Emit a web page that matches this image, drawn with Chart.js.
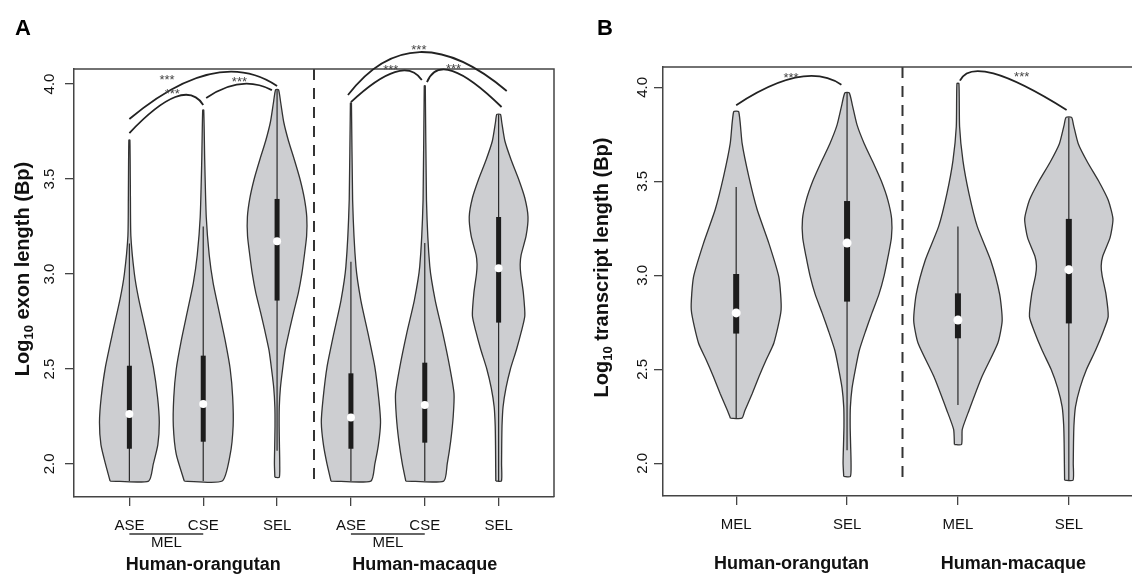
<!DOCTYPE html>
<html>
<head>
<meta charset="utf-8">
<script src="https://cdn.jsdelivr.net/npm/chart.js@4/dist/chart.umd.min.js"></script>
<style>
  body { margin: 0; width: 1132px; height: 576px; overflow: hidden; background: #fff; }
  .panel { position: absolute; top: 0; }
</style>
</head>
<body>
<div class="panel" style="left:0"><canvas id="chartA" width="580" height="576"></canvas></div>
<div class="panel" style="left:580px"><canvas id="chartB" width="570" height="576"></canvas></div>
<script>
const FONT = '"Liberation Sans", Arial, Helvetica, sans-serif';
Chart.defaults.font.family = FONT;

// axis ticks
const yTicks = [2.0, 2.5, 3.0, 3.5, 4.0];

// panel A: exon length
const catsA = ['ASE', 'CSE', 'SEL', 'ASE', 'CSE', 'SEL'];
const groupsA = ['Human-orangutan', 'Human-macaque'];

// panel B: transcript length
const catsB = ['MEL', 'SEL', 'MEL', 'SEL'];
const groupsB = ['Human-orangutan', 'Human-macaque'];

// violin outlines: log10 length levels and density half widths
const aseOrLevels = [1.91, 2.0, 2.1, 2.22, 2.35, 2.51, 2.7, 2.87, 3.0, 3.2, 3.4, 3.705];
const aseOrWidths = [0.261, 0.324, 0.385, 0.405, 0.382, 0.325, 0.222, 0.125, 0.068, 0.020, 0.014, 0.007];
const cseOrLevels = [1.91, 2.05, 2.2, 2.35, 2.5, 2.65, 2.8, 2.95, 3.1, 3.3, 3.6, 3.863];
const cseOrWidths = [0.257, 0.365, 0.405, 0.399, 0.365, 0.297, 0.216, 0.135, 0.081, 0.041, 0.020, 0.007];
const aseMaLevels = [1.91, 2.0, 2.1, 2.22, 2.34, 2.51, 2.69, 2.86, 3.04, 3.39, 3.9];
const aseMaWidths = [0.270, 0.324, 0.372, 0.401, 0.378, 0.324, 0.230, 0.135, 0.068, 0.023, 0.007];
const cseMaLevels = [1.91, 2.0, 2.12, 2.25, 2.37, 2.51, 2.69, 2.86, 3.04, 3.39, 3.99];
const cseMaWidths = [0.257, 0.304, 0.351, 0.385, 0.396, 0.338, 0.243, 0.142, 0.068, 0.023, 0.007];
const selOrLevels = [1.93, 2.0, 2.1, 2.2, 2.3, 2.4, 2.5, 2.6, 2.7, 2.8, 2.9, 3.0, 3.1, 3.2, 3.3, 3.4, 3.5, 3.6, 3.7, 3.8, 3.9, 3.97];
const selOrWidths = [0.03, 0.036, 0.032, 0.028, 0.03, 0.045, 0.075, 0.11, 0.165, 0.225, 0.288, 0.335, 0.37, 0.40, 0.402, 0.368, 0.31, 0.235, 0.155, 0.09, 0.05, 0.02];
const selMaLevels = [1.91, 2.0, 2.1, 2.2, 2.3, 2.4, 2.5, 2.6, 2.7, 2.78, 2.9, 3.0, 3.05, 3.1, 3.2, 3.3, 3.4, 3.5, 3.6, 3.7, 3.8, 3.84];
const selMaWidths = [0.038, 0.04, 0.042, 0.046, 0.06, 0.10, 0.16, 0.24, 0.31, 0.355, 0.335, 0.30, 0.292, 0.305, 0.372, 0.398, 0.355, 0.27, 0.17, 0.085, 0.042, 0.025];
const melOrLevels = [2.24, 2.28, 2.37, 2.46, 2.55, 2.64, 2.815, 2.99, 3.17, 3.35, 3.525, 3.70, 3.87];
const melOrWidths = [0.052, 0.078, 0.144, 0.205, 0.27, 0.340, 0.405, 0.385, 0.295, 0.189, 0.114, 0.054, 0.023];
const melMaLevels = [2.10, 2.18, 2.28, 2.46, 2.64, 2.76, 2.90, 3.08, 3.26, 3.436, 3.61, 3.79, 4.02];
const melMaWidths = [0.032, 0.039, 0.099, 0.216, 0.360, 0.399, 0.376, 0.295, 0.174, 0.099, 0.045, 0.015, 0.009];

// box stats: [whisker low, q1, median, q3, whisker high]
const aseOrStats = [1.91, 2.08, 2.263, 2.517, 3.16];
const cseOrStats = [1.91, 2.117, 2.316, 2.57, 3.25];
const selOrStats = [2.07, 2.86, 3.172, 3.395, 3.97];
const aseMaStats = [1.91, 2.08, 2.244, 2.477, 3.065];
const cseMaStats = [1.91, 2.112, 2.31, 2.533, 3.163];
const selMaStats = [1.91, 2.744, 3.03, 3.30, 3.84];
const melOrStats = [2.24, 2.69, 2.80, 3.007, 3.47];
const melMaStats = [2.31, 2.665, 2.762, 2.904, 3.26];

// significance brackets: [x from, y from, x ctrl, y ctrl, x to, y to] and '***' spots
const arcsA = [
  [1.0, 3.742, 1.743, 4.047, 2.0, 3.89],
  [2.04, 3.926, 2.51, 4.053, 2.93, 3.968],
  [1.0, 3.816, 2.19, 4.203, 3.0, 3.99],
  [4.0, 3.905, 4.71, 4.163, 4.96, 4.021],
  [5.03, 4.01, 5.22, 4.192, 6.04, 3.879],
  [3.96, 3.942, 4.83, 4.384, 6.11, 3.963]
];
const starsA = [[1.58, 3.963], [2.49, 4.026], [1.51, 4.037], [4.54, 4.089], [5.39, 4.095], [4.92, 4.195]];
const arcsB = [
  [1.0, 3.905, 1.619, 4.146, 1.949, 4.014],
  [3.018, 4.035, 3.14, 4.19, 3.98, 3.879]
];
const starsB = [[1.495, 4.065], [3.575, 4.07]];

function outline(pos, lv, wd) {
  const pts = [];
  for (let i = 0; i < lv.length; i++) pts.push({x: pos - wd[i], y: lv[i]});
  for (let i = lv.length - 1; i >= 0; i--) pts.push({x: pos + wd[i], y: lv[i]});
  pts.push(pts[0]);
  return pts;
}

function buildSets(shapes, stats, boxW, dotR, divider, yTop, yBot) {
  const sets = [];
  shapes.forEach(function (s, i) {
    const pos = i + 1;
    const st = stats[i];
    sets.push({data: outline(pos, s[0], s[1]), showLine: true, fill: 'shape',
      backgroundColor: '#cdced1', borderColor: '#333', borderWidth: 1.3,
      pointRadius: 0, tension: 0.2, order: 4});
    sets.push({data: [{x: pos, y: st[0]}, {x: pos, y: st[4]}], showLine: true,
      borderColor: '#2a2a2a', borderWidth: 1.2, pointRadius: 0, order: 3});
    sets.push({data: [{x: pos, y: st[1]}, {x: pos, y: st[3]}], showLine: true,
      borderColor: '#1c1c1c', borderWidth: boxW, borderCapStyle: 'butt', pointRadius: 0, order: 2});
    sets.push({data: [{x: pos, y: st[2]}], pointRadius: dotR, backgroundColor: '#fff',
      borderColor: '#fff', borderWidth: 0, order: 1});
  });
  sets.push({data: [{x: divider, y: yTop}, {x: divider, y: yBot}], showLine: true,
    borderColor: '#333', borderWidth: 2, borderDash: [11, 8], pointRadius: 0, order: 5});
  return sets;
}

function decor(cfg) {
  return {
    id: 'decor',
    afterDraw(chart) {
      const ctx = chart.ctx, a = chart.chartArea, x = chart.scales.x, y = chart.scales.y;
      ctx.save();
      ctx.strokeStyle = '#444';
      ctx.lineWidth = 1.5;
      ctx.beginPath();
      ctx.moveTo(a.left, a.top);
      ctx.lineTo(a.right, a.top);
      ctx.lineTo(a.right, a.bottom);
      ctx.stroke();

      ctx.strokeStyle = '#222';
      ctx.lineWidth = 1.8;
      cfg.arcs.forEach(function (c) {
        ctx.beginPath();
        ctx.moveTo(x.getPixelForValue(c[0]), y.getPixelForValue(c[1]));
        ctx.quadraticCurveTo(x.getPixelForValue(c[2]), y.getPixelForValue(c[3]),
          x.getPixelForValue(c[4]), y.getPixelForValue(c[5]));
        ctx.stroke();
      });
      ctx.fillStyle = '#444';
      ctx.font = '13px ' + FONT;
      ctx.textAlign = 'center';
      ctx.textBaseline = 'middle';
      cfg.stars.forEach(function (s) {
        ctx.fillText('***', x.getPixelForValue(s[0]), y.getPixelForValue(s[1]) + 3);
      });

      // MEL bracket under ASE/CSE
      ctx.fillStyle = '#111';
      ctx.font = '15px ' + FONT;
      (cfg.under || []).forEach(function (u) {
        const x0 = x.getPixelForValue(u[0]), x1 = x.getPixelForValue(u[1]);
        ctx.strokeStyle = '#333';
        ctx.lineWidth = 1.5;
        ctx.beginPath();
        ctx.moveTo(x0, a.bottom + 37);
        ctx.lineTo(x1, a.bottom + 37);
        ctx.stroke();
        ctx.fillText('MEL', (x0 + x1) / 2, a.bottom + 46);
      });

      ctx.font = 'bold 18px ' + FONT;
      cfg.groups.forEach(function (g, i) {
        ctx.fillText(g, x.getPixelForValue(cfg.groupPos[i]), a.bottom + 68);
      });

      // y title with subscript
      const big = 'bold 20px ' + FONT, small = 'bold 13px ' + FONT;
      ctx.font = big;
      const w1 = ctx.measureText('Log').width;
      const w3 = ctx.measureText(cfg.title).width;
      ctx.font = small;
      const w2 = ctx.measureText('10').width;
      ctx.translate(cfg.titleX, (a.top + a.bottom) / 2 - 14);
      ctx.rotate(-Math.PI / 2);
      ctx.textAlign = 'left';
      let px = -(w1 + w2 + w3) / 2;
      ctx.font = big;
      ctx.fillText('Log', px, 0);
      px += w1;
      ctx.font = small;
      ctx.fillText('10', px, 6);
      px += w2;
      ctx.font = big;
      ctx.fillText(cfg.title, px, 0);
      ctx.restore();

      ctx.save();
      ctx.fillStyle = '#000';
      ctx.font = 'bold 22px ' + FONT;
      ctx.textAlign = 'center';
      ctx.textBaseline = 'middle';
      ctx.fillText(cfg.letter, cfg.letterX, 29);
      ctx.restore();
    }
  };
}

function makeChart(id, o) {
  return new Chart(document.getElementById(id), {
    type: 'scatter',
    data: {datasets: o.sets},
    options: {
      responsive: false,
      animation: false,
      events: [],
      layout: {padding: {left: 0, top: o.top, right: o.right, bottom: 0}},
      plugins: {legend: {display: false}, tooltip: {enabled: false}},
      scales: {
        x: {
          type: 'linear', min: o.xMin, max: o.xMax,
          afterFit: function (s) { s.height = o.xH; },
          afterBuildTicks: function (s) { s.ticks = o.cats.map(function (c, i) { return {value: i + 1}; }); },
          ticks: {callback: function (v, i) { return o.cats[i]; }, autoSkip: false, maxRotation: 0,
            font: {size: 15}, color: '#111', padding: 11},
          grid: {drawOnChartArea: false, drawTicks: true, tickLength: 9, color: '#444', lineWidth: 1.3},
          border: {display: true, color: '#444', width: 1.5}
        },
        y: {
          type: 'linear', min: o.yMin, max: o.yMax,
          afterFit: function (s) { s.width = o.yW; },
          afterBuildTicks: function (s) { s.ticks = yTicks.map(function (v) { return {value: v}; }); },
          ticks: {callback: function (v) { return v.toFixed(1); }, minRotation: 90, maxRotation: 90,
            crossAlign: 'center', font: {size: 15}, color: '#111', padding: o.yPad},
          grid: {drawOnChartArea: false, drawTicks: true, tickLength: 9, color: '#444', lineWidth: 1.3},
          border: {display: true, color: '#444', width: 1.5}
        }
      }
    },
    plugins: [decor(o.decor)]
  });
}

makeChart('chartA', {
  sets: buildSets([[aseOrLevels, aseOrWidths], [cseOrLevels, cseOrWidths], [selOrLevels, selOrWidths],
    [aseMaLevels, aseMaWidths], [cseMaLevels, cseMaWidths], [selMaLevels, selMaWidths]],
    [aseOrStats, cseOrStats, selOrStats, aseMaStats, cseMaStats, selMaStats], 5, 4, 3.5, 4.079, 1.9),
  cats: catsA, xMin: 0.25, xMax: 6.75, yMin: 1.826, yMax: 4.079,
  top: 69, right: 26, xH: 79, yW: 74, yPad: 4.5,
  decor: {arcs: arcsA, stars: starsA, under: [[1, 2], [4, 5]], groups: groupsA, groupPos: [2, 5],
    title: ' exon length (Bp)', titleX: 23, letter: 'A', letterX: 23}
});

makeChart('chartB', {
  sets: buildSets([[melOrLevels, melOrWidths], [selOrLevels, selOrWidths],
    [melMaLevels, melMaWidths], [selMaLevels, selMaWidths]],
    [melOrStats, selOrStats, melMaStats, selMaStats], 6, 4.5, 2.5, 4.108, 1.902),
  cats: catsB, xMin: 0.34, xMax: 4.66, yMin: 1.826, yMax: 4.108,
  top: 67, right: 8, xH: 80, yW: 83, yPad: 0.5,
  decor: {arcs: arcsB, stars: starsB, groups: groupsB, groupPos: [1.5, 3.5],
    title: ' transcript length (Bp)', titleX: 22, letter: 'B', letterX: 25}
});
</script>
</body>
</html>
